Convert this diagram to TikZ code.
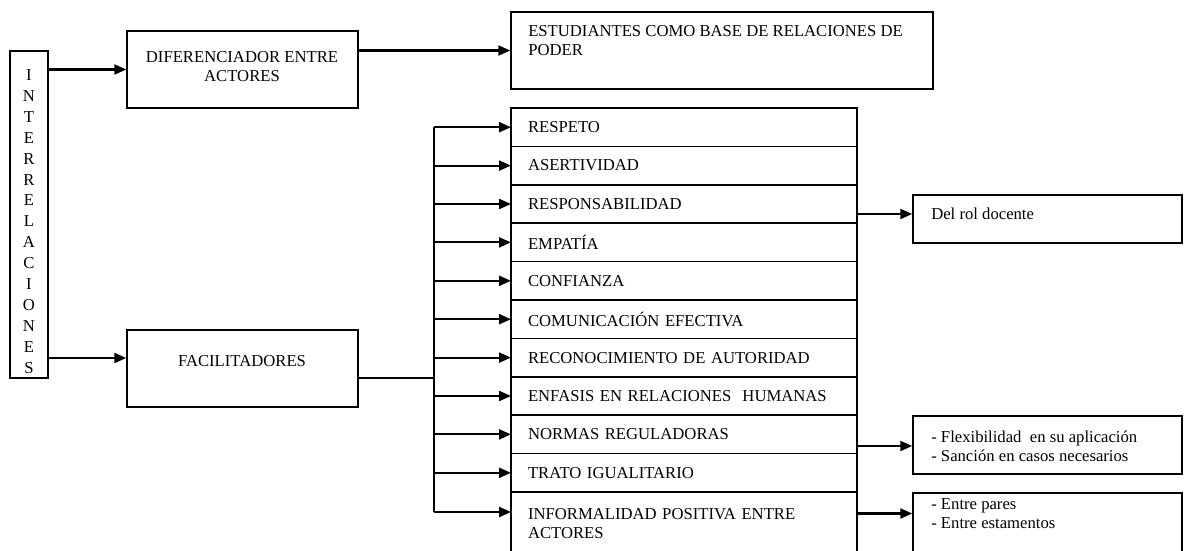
\documentclass[tikz,border=0pt]{standalone}
\usepackage{fontspec}
\setmainfont{Liberation Serif}
\usepackage{tikz}
\usetikzlibrary{arrows.meta}
\usetikzlibrary{fit}

\tikzset{
  caja/.style={draw, line width=1.1pt, inner sep=0pt},
  fila/.style={draw, line width=1.1pt, anchor=north west, outer sep=0pt,
    minimum height=28.8pt, text width=234pt, inner xsep=12.75pt, inner ysep=0pt, align=left},
  texto/.style={inner sep=0pt, align=left, anchor=west},
  flecha/.style={line width=1.6pt, -{Triangle[length=9pt,width=7.5pt]}},
  linea/.style={line width=1pt}
}

\begin{document}
\begin{tikzpicture}[x=0.75pt,y=-0.75pt,font=\fontsize{12.5}{14.3}\selectfont]
            \clip (0,0) rectangle (1184,550);
            % cajas
            \node[caja, fit={(10,51) (48,378)}] (inter) {};
            \node[caja, fit={(127,31) (358,108)}] (dif) {};
            \node[caja, fit={(511,12) (933,89)}] (estud) {};
            \node[caja, fit={(127,330) (358,407)}] (facil) {};
            \node[caja, fit={(913,195) (1182,243)}] (rol) {};
            \node[caja, fit={(913,416) (1182,474)}] (flex) {};
            \node[caja, fit={(913,493) (1182,570)}] (pares) {};
            % textos
            \node[align=center, inner sep=0pt, font=\fontsize{12.5}{15.7}\selectfont] (tinter) at (29,221.5)
                {I\\N\\T\\E\\R\\R\\E\\L\\A\\C\\I\\O\\N\\E\\S};
            \node[align=center, inner sep=0pt] (tdif) at (242,66.5) {DIFERENCIADOR ENTRE\\ACTORES};
            \node[texto] (testud) at (528,41) {ESTUDIANTES COMO BASE DE RELACIONES DE\\PODER};
            \node[inner sep=0pt] (tfacil) at (242,361) {FACILITADORES};
            \node[texto] (trol) at (931,214) {Del rol docente};
            \node[texto] (tflex) at (931,446) {- Flexibilidad\ \ en su aplicación\\- Sanción en casos necesarios};
            \node[texto] (tpares) at (931,513.5) {- Entre pares\\- Entre estamentos};
            % lista de facilitadores
            \node[fila] (r0) at (511,108) {RESPETO};
            \node[fila] (r1) at (r0.south west) {ASERTIVIDAD};
            \node[fila] (r2) at (r1.south west) {RESPONSABILIDAD};
            \node[fila] (r3) at (r2.south west) {EMPATÍA};
            \node[fila] (r4) at (r3.south west) {CONFIANZA};
            \node[fila] (r5) at (r4.south west) {COMUNICACIÓN EFECTIVA};
            \node[fila] (r6) at (r5.south west) {RECONOCIMIENTO DE AUTORIDAD};
            \node[fila] (r7) at (r6.south west) {ENFASIS EN RELACIONES\ \ HUMANAS};
            \node[fila] (r8) at (r7.south west) {NORMAS REGULADORAS};
            \node[fila] (r9) at (r8.south west) {TRATO IGUALITARIO};
            \node[fila, minimum height=48pt] (r10) at (r9.south west) {INFORMALIDAD POSITIVA ENTRE\\ACTORES};
            % conectores
            \coordinate (eF) at (127,358);
            \coordinate (bus) at (434,378);
            \coordinate (e10) at (434,512);
            \draw[flecha] (inter.east |- dif.west) -- (dif.west);
            \draw[flecha] (inter.east |- eF) -- (facil.west |- eF);
            \draw[flecha] (dif.east |- estud.west) -- (estud.west);
            \draw[linea] (facil.east |- bus) -- (bus);
            \draw[linea] (bus |- r0.west) -- (e10);
            \draw[flecha] (bus |- r0.west) -- (r0.west);
            \draw[flecha] (bus |- r1.west) -- (r1.west);
            \draw[flecha] (bus |- r2.west) -- (r2.west);
            \draw[flecha] (bus |- r3.west) -- (r3.west);
            \draw[flecha] (bus |- r4.west) -- (r4.west);
            \draw[flecha] (bus |- r5.west) -- (r5.west);
            \draw[flecha] (bus |- r6.west) -- (r6.west);
            \draw[flecha] (bus |- r7.west) -- (r7.west);
            \draw[flecha] (bus |- r8.west) -- (r8.west);
            \draw[flecha] (bus |- r9.west) -- (r9.west);
            \draw[flecha] (e10) -- (r10.west |- e10);
            \draw[flecha] (r2.east |- trol.west) -- (rol.west |- trol.west);
            \draw[flecha] (r8.east |- tflex.west) -- (flex.west |- tflex.west);
            \draw[flecha] (r10.east |- tpares.west) -- (pares.west |- tpares.west);
\end{tikzpicture}
\end{document}
